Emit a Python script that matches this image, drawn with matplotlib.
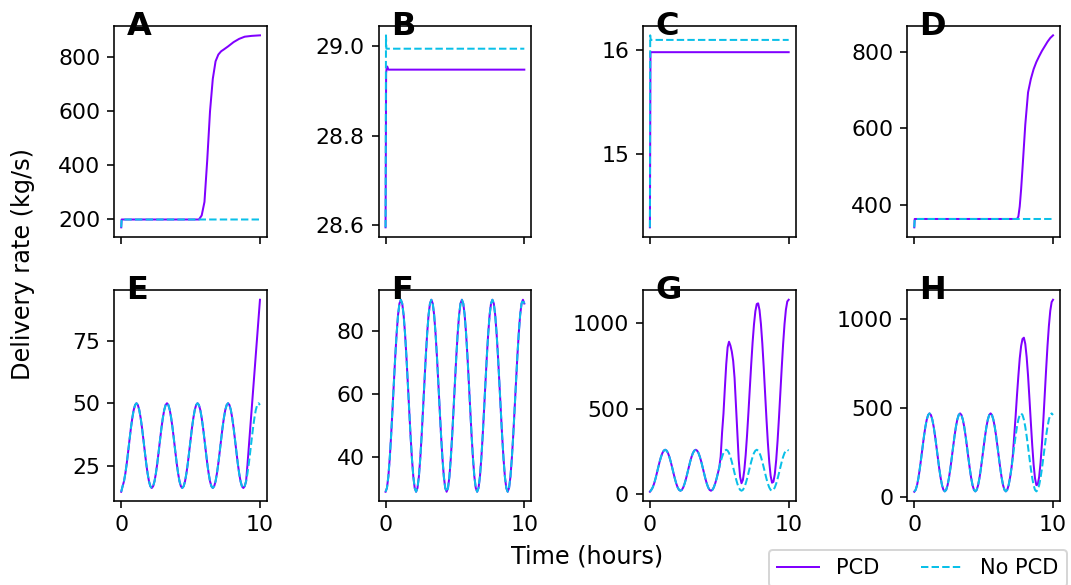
import matplotlib
matplotlib.use("Agg")
import matplotlib.pyplot as plt

# colours
pcd_color = plt.cm.rainbow(0.0)
nopcd_color = plt.cm.rainbow(0.27)

# ---- top row: short transient then steady state ----
tA_pcd = [0, 0.03, 5.6, 5.8, 6.0, 6.2, 6.4, 6.6, 6.8, 7.0, 7.2, 7.4, 7.7, 8.1, 8.5, 8.9, 9.4, 10]
A_pcd = [171, 200, 200, 215, 265, 420, 600, 720, 785, 810, 822, 829, 840, 856, 868, 876, 879, 881]
tA_nopcd = [0, 0.03, 10]
A_nopcd = [171, 200, 200]

tB_pcd = [0, 0.04, 0.08, 0.12, 0.2, 10]
B_pcd = [28.594, 28.94, 28.952, 28.955, 28.948, 28.948]
tB_nopcd = [0, 0.03, 0.06, 10]
B_nopcd = [28.594, 29.025, 28.995, 28.995]

tC_pcd = [0, 0.04, 10]
C_pcd = [14.293, 15.978, 15.978]
tC_nopcd = [0, 0.02, 0.06, 10]
C_nopcd = [14.293, 16.14, 16.096, 16.096]

tD_pcd = [0, 0.03, 7.4, 7.5, 7.6, 7.7, 7.8, 8.0, 8.2, 8.4, 8.6, 8.8, 9.0, 9.2, 9.4, 9.6, 9.8, 10]
D_pcd = [340, 362, 362, 368, 395, 440, 495, 610, 695, 730, 756, 775, 790, 804, 816, 828, 838, 845]
tD_nopcd = [0, 0.03, 10]
D_nopcd = [340, 362, 362]

# ---- bottom row: oscillating delivery, sampled every 0.1 h ----
t_osc = [0.0, 0.1, 0.2, 0.3, 0.4, 0.5, 0.6, 0.7, 0.8, 0.9, 1.0,
         1.1, 1.2, 1.3, 1.4, 1.5, 1.6, 1.7, 1.8, 1.9, 2.0, 2.1,
         2.2, 2.3, 2.4, 2.5, 2.6, 2.7, 2.8, 2.9, 3.0, 3.1, 3.2,
         3.3, 3.4, 3.5, 3.6, 3.7, 3.8, 3.9, 4.0, 4.1, 4.2, 4.3,
         4.4, 4.5, 4.6, 4.7, 4.8, 4.9, 5.0, 5.1, 5.2, 5.3, 5.4,
         5.5, 5.6, 5.7, 5.8, 5.9, 6.0, 6.1, 6.2, 6.3, 6.4, 6.5,
         6.6, 6.7, 6.8, 6.9, 7.0, 7.1, 7.2, 7.3, 7.4, 7.5, 7.6,
         7.7, 7.8, 7.9, 8.0, 8.1, 8.2, 8.3, 8.4, 8.5, 8.6, 8.7,
         8.8, 8.9, 9.0, 9.1, 9.2, 9.3, 9.4, 9.5, 9.6, 9.7, 9.8,
         9.9, 10.0]

E_nopcd = [14.5, 16.7, 18.7, 21.9, 25.9, 30.6, 35.4, 40.1, 44.1, 47.3, 49.3,
           50, 49.3, 47.3, 44.1, 40.1, 35.4, 30.6, 25.9, 21.9, 18.7, 16.7,
           16, 16.7, 18.7, 21.9, 25.9, 30.6, 35.4, 40.1, 44.1, 47.3, 49.3,
           50, 49.3, 47.3, 44.1, 40.1, 35.4, 30.6, 25.9, 21.9, 18.7, 16.7,
           16, 16.7, 18.7, 21.9, 25.9, 30.6, 35.4, 40.1, 44.1, 47.3, 49.3,
           50, 49.3, 47.3, 44.1, 40.1, 35.4, 30.6, 25.9, 21.9, 18.7, 16.7,
           16, 16.7, 18.7, 21.9, 25.9, 30.6, 35.4, 40.1, 44.1, 47.3, 49.3,
           50, 49.3, 47.3, 44.1, 40.1, 35.4, 30.6, 25.9, 21.9, 18.7, 16.7,
           16, 16.7, 18.7, 21.9, 25.9, 30.6, 35.4, 40.1, 44.1, 47.3, 49.3,
           50, 49.3]
E_pcd = [14.5, 16.7, 18.7, 21.9, 25.9, 30.6, 35.4, 40.1, 44.1, 47.3, 49.3,
         50, 49.3, 47.3, 44.1, 40.1, 35.4, 30.6, 25.9, 21.9, 18.7, 16.7,
         16, 16.7, 18.7, 21.9, 25.9, 30.6, 35.4, 40.1, 44.1, 47.3, 49.3,
         50, 49.3, 47.3, 44.1, 40.1, 35.4, 30.6, 25.9, 21.9, 18.7, 16.7,
         16, 16.7, 18.7, 21.9, 25.9, 30.6, 35.4, 40.1, 44.1, 47.3, 49.3,
         50, 49.3, 47.3, 44.1, 40.1, 35.4, 30.6, 25.9, 21.9, 18.7, 16.7,
         16, 16.7, 18.7, 21.9, 25.9, 30.6, 35.4, 40.1, 44.1, 47.3, 49.3,
         50, 49.3, 47.3, 44.1, 40.1, 35.4, 30.6, 25.9, 21.9, 18.7, 16.7,
         16, 16.7, 18.7, 25.4, 32.7, 40.1, 47.4, 54.8, 62.1, 69.5, 76.8,
         84.2, 91.5]

F_nopcd = [28.8, 30.0, 33.6, 39.4, 46.7, 55.1, 63.7, 72.1, 79.4, 85.2, 88.8,
           90.0, 88.8, 85.2, 79.4, 72.1, 63.7, 55.1, 46.7, 39.4, 33.6, 30.0,
           28.8, 30.0, 33.6, 39.4, 46.7, 55.1, 63.7, 72.1, 79.4, 85.2, 88.8,
           90.0, 88.8, 85.2, 79.4, 72.1, 63.7, 55.1, 46.7, 39.4, 33.6, 30.0,
           28.8, 30.0, 33.6, 39.4, 46.7, 55.1, 63.7, 72.1, 79.4, 85.2, 88.8,
           90.0, 88.8, 85.2, 79.4, 72.1, 63.7, 55.1, 46.7, 39.4, 33.6, 30.0,
           28.8, 30.0, 33.6, 39.4, 46.7, 55.1, 63.7, 72.1, 79.4, 85.2, 88.8,
           90.0, 88.8, 85.2, 79.4, 72.1, 63.7, 55.1, 46.7, 39.4, 33.6, 30.0,
           28.8, 30.0, 33.6, 39.4, 46.7, 55.1, 63.7, 72.1, 79.4, 85.2, 88.8,
           90.0, 88.8]
F_pcd = F_nopcd

G_nopcd = [13, 23.8, 38, 60.5, 89, 122, 156, 189, 217.5, 240, 254,
           259, 254, 240, 217.5, 189, 156, 122, 89, 60.5, 38, 23.8,
           19, 23.8, 38, 60.5, 89, 122, 156, 189, 217.5, 240, 254,
           259, 254, 240, 217.5, 189, 156, 122, 89, 60.5, 38, 23.8,
           19, 23.8, 38, 60.5, 89, 122, 156, 189, 217.5, 240, 254,
           259, 254, 240, 217.5, 189, 156, 122, 89, 60.5, 38, 23.8,
           19, 23.8, 38, 60.5, 89, 122, 156, 189, 217.5, 240, 254,
           259, 254, 240, 217.5, 189, 156, 122, 89, 60.5, 38, 23.8,
           19, 23.8, 38, 60.5, 89, 122, 156, 189, 217.5, 240, 254,
           259, 254]
G_pcd = [13, 23.8, 38, 60.5, 89, 122, 156, 189, 217.5, 240, 254,
         259, 254, 240, 217.5, 189, 156, 122, 89, 60.5, 38, 23.8,
         19, 23.8, 38, 60.5, 89, 122, 156, 189, 217.5, 240, 254,
         259, 254, 240, 217.5, 189, 156, 122, 89, 60.5, 38, 23.8,
         19, 23.8, 38, 60.5, 89, 122, 156, 220, 360, 470, 620,
         760, 860, 892, 870, 835, 780, 680, 520, 360, 200, 100,
         63, 82, 138, 228, 344, 478, 620, 760, 888, 994, 1071,
         1113, 1117, 1077, 996, 882, 744, 591, 439, 301, 187, 106,
         66, 71, 116, 198, 311, 446, 593, 741, 879, 995, 1080,
         1128, 1138]

H_nopcd = [28, 38.8, 64.8, 106, 158.5, 219, 281, 341.5, 394, 435, 461,
           470, 461, 435, 394, 341.5, 281, 219, 158.5, 106, 64.8, 38.8,
           30, 38.8, 64.8, 106, 158.5, 219, 281, 341.5, 394, 435, 461,
           470, 461, 435, 394, 341.5, 281, 219, 158.5, 106, 64.8, 38.8,
           30, 38.8, 64.8, 106, 158.5, 219, 281, 341.5, 394, 435, 461,
           470, 461, 435, 394, 341.5, 281, 219, 158.5, 106, 64.8, 38.8,
           30, 38.8, 64.8, 106, 158.5, 219, 281, 341.5, 394, 435, 461,
           470, 461, 435, 394, 341.5, 281, 219, 158.5, 106, 64.8, 38.8,
           30, 38.8, 64.8, 106, 158.5, 219, 281, 341.5, 394, 435, 461,
           470, 461]
H_pcd = [28, 38.8, 64.8, 106, 158.5, 219, 281, 341.5, 394, 435, 461,
         470, 461, 435, 394, 341.5, 281, 219, 158.5, 106, 64.8, 38.8,
         30, 38.8, 64.8, 106, 158.5, 219, 281, 341.5, 394, 435, 461,
         470, 461, 435, 394, 341.5, 281, 219, 158.5, 106, 64.8, 38.8,
         30, 38.8, 64.8, 106, 158.5, 219, 281, 341.5, 394, 435, 461,
         470, 461, 435, 394, 341.5, 281, 219, 158.5, 106, 64.8, 38.8,
         30, 38.8, 64.8, 106, 158.5, 230, 340, 450, 570, 680, 780,
         850, 890, 897, 862, 787, 682, 554, 420, 292, 182, 104,
         65, 69, 112, 191, 299, 429, 572, 715, 849, 962, 1048,
         1098, 1111]

panels = [
    ("A", tA_pcd, A_pcd, tA_nopcd, A_nopcd, [200, 400, 600, 800]),
    ("B", tB_pcd, B_pcd, tB_nopcd, B_nopcd, [28.6, 28.8, 29.0]),
    ("C", tC_pcd, C_pcd, tC_nopcd, C_nopcd, [15, 16]),
    ("D", tD_pcd, D_pcd, tD_nopcd, D_nopcd, [400, 600, 800]),
    ("E", t_osc, E_pcd, t_osc, E_nopcd, [25, 50, 75]),
    ("F", t_osc, F_pcd, t_osc, F_nopcd, [40, 60, 80]),
    ("G", t_osc, G_pcd, t_osc, G_nopcd, [0, 500, 1000]),
    ("H", t_osc, H_pcd, t_osc, H_nopcd, [0, 500, 1000]),
]

fig, axes = plt.subplots(2, 4, sharex=True, figsize=(1071 / 144, 585 / 144), dpi=144)
plt.subplots_adjust(left=0.1067, right=0.9897, top=0.956, bottom=0.143,
                    wspace=0.732, hspace=0.252)

for ax, (letter, tp, yp, tn, yn, yt) in zip(axes.flat, panels):
    ax.plot(tp, yp, color=pcd_color, lw=1, label="PCD")
    ax.plot(tn, yn, color=nopcd_color, lw=1, ls="--", label="No PCD")
    ax.set_yticks(yt)
    ax.set_xticks([0, 10])
    ax.tick_params(labelsize=11)
    ax.text(0.08, 0.956, letter, transform=ax.transAxes, fontsize=16,
            fontweight="bold", ha="left", va="baseline")

fig.text(0.548, 0.048, "Time (hours)", ha="center", va="center", fontsize=12)
fig.text(0.0215, 0.549, "Delivery rate (kg/s)", ha="center", va="center",
         rotation=90, fontsize=12)

handles, labels = axes[0, 0].get_legend_handles_labels()
fig.legend(handles, labels, loc="upper right", ncol=2, fontsize=10.5,
           bbox_to_anchor=(0.996, 0.06), borderaxespad=0)

plt.savefig("out.png", dpi=144)
